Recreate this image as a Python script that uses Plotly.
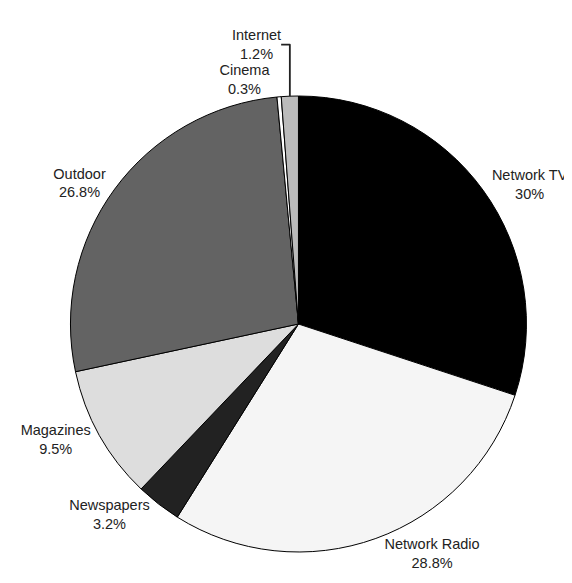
import plotly.graph_objects as go

labels = ["Network TV", "Network Radio", "Newspapers", "Magazines", "Outdoor", "Cinema", "Internet"]
values = [30, 28.8, 3.2, 9.5, 26.8, 0.3, 1.2]
colors = ["#000000", "#f5f5f5", "#222222", "#dddddd", "#636363", "#ffffff", "#bbbbbb"]

fig = go.Figure(go.Pie(
    labels=labels,
    values=values,
    sort=False,
    direction="clockwise",
    rotation=0,
    marker=dict(colors=colors, line=dict(color="#000000", width=1)),
    textposition="outside",
    texttemplate="%{label}<br>%{value}%",
    textfont=dict(family="Liberation Sans, Arial, sans-serif", size=14.5, color="#222222"),
    hoverinfo="label+value",
    showlegend=False,
    domain=dict(x=[0, 0.965], y=[0, 1]),
))

fig.update_layout(
    width=572,
    height=583,
    margin=dict(l=0, r=0, t=0, b=0),
    paper_bgcolor="#ffffff",
    plot_bgcolor="#ffffff",
    showlegend=False,
)

fig.write_html("out.html")
